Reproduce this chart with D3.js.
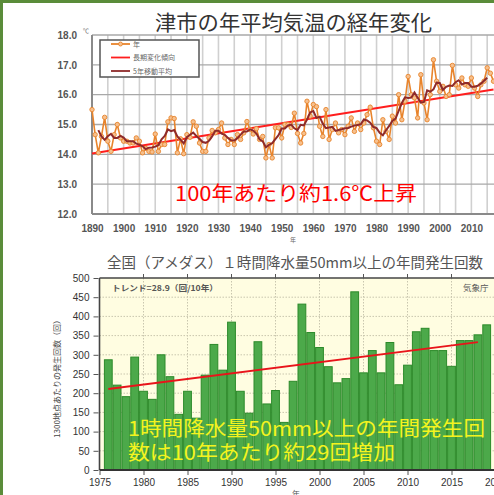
<!DOCTYPE html>
<html>
<head>
<meta charset="utf-8">
<script src="https://cdn.jsdelivr.net/npm/d3@7"></script>
<style>
  html, body { margin: 0; padding: 0; background: #fff; }
  svg { display: block; }
</style>
</head>
<body>
<svg id="chart" width="494" height="495"></svg>
<script>
// 津市の年平均気温 (1890-2017)
const tempYears = d3.range(1890, 2018);
const tempValues = [
  15.50, 14.66, 14.05, 14.60, 15.24, 14.44, 14.10, 14.66, 15.00, 14.55,
  14.44, 14.44, 14.38, 14.38, 14.55, 14.44, 14.05, 14.20, 14.10, 14.08,
  14.68, 14.10, 14.33, 14.33, 15.09, 15.22, 15.20, 14.05, 14.52, 14.02,
  14.66, 14.57, 15.09, 14.94, 14.38, 14.10, 14.10, 14.55, 14.80, 14.72,
  14.83, 15.05, 14.55, 14.33, 14.50, 14.33, 14.66, 14.50, 14.72, 15.10,
  14.83, 14.68, 14.86, 14.50, 14.60, 13.88, 14.33, 13.88, 14.89, 14.89,
  14.55, 15.00, 15.00, 14.90, 15.38, 14.70, 14.38, 14.70, 15.78, 15.28,
  15.67, 15.60, 14.94, 14.60, 15.50, 14.50, 14.83, 15.05, 14.72, 14.83,
  14.66, 14.94, 15.22, 14.77, 15.05, 14.83, 15.05, 15.33, 15.58, 14.89,
  14.44, 14.33, 15.16, 14.77, 14.50, 15.28, 15.05, 16.00, 15.16, 15.78,
  16.61, 16.00, 15.89, 15.22, 16.67, 15.72, 15.16, 16.00, 17.17, 16.45,
  16.11, 16.28, 15.94, 16.00, 16.98, 16.33, 16.22, 16.56, 16.33, 16.28,
  16.56, 16.22, 15.94, 16.33, 16.45, 16.90, 16.72, 16.45
];
// 長期変化傾向 (end points)
const tempTrendYears = [1890, 2017];
const tempTrendValues = [14.03, 16.17];
const tempYTicks = [12, 13, 14, 15, 16, 17, 18];
const tempXTicks = d3.range(1890, 2020, 10);
const tempLegend = ["年", "長期変化傾向", "5年移動平均"];

// 1時間降水量50mm以上の年間発生回数 (1976-2019)
const rainYears = d3.range(1976, 2020);
const rainCounts = [
  287, 221, 191, 294, 205, 184, 300, 243, 145, 205,
  135, 247, 327, 260, 385, 205, 148, 334, 172, 207,
  124, 231, 432, 358, 319, 269, 227, 238, 464, 253,
  311, 253, 332, 222, 273, 360, 369, 311, 311, 270,
  337, 337, 352, 378
];
const rainTrendYears = [1976, 2018];
const rainTrendValues = [211, 333];
const rainYTicks = d3.range(0, 550, 50);
const rainXTicks = d3.range(1975, 2025, 5);

const svg = d3.select("#chart");
const jp = "'Noto Sans CJK JP', 'Noto Sans', sans-serif";
const num = "'Liberation Sans', Arial, sans-serif";

svg.append("rect").attr("width", 494).attr("height", 495).attr("fill", "#fff");

// ---------- top chart ----------
const x1 = d3.scaleLinear().domain([1890, 2020]).range([92, 503]);
const y1 = d3.scaleLinear().domain([12, 18]).range([214, 35]);

svg.append("text")
  .attr("x", 155).attr("y", 30)
  .attr("textLength", 277).attr("lengthAdjust", "spacingAndGlyphs")
  .attr("font-family", jp).attr("font-size", 21).attr("fill", "#333")
  .text("津市の年平均気温の経年変化");

const g1 = svg.append("g");

// vertical grid, every 5 years
g1.selectAll("line.vg")
  .data(d3.range(1895, 2021, 5))
  .join("line")
  .attr("x1", d => x1(d)).attr("x2", d => x1(d))
  .attr("y1", y1(18)).attr("y2", y1(12))
  .attr("stroke", "#d0d0d0").attr("stroke-width", 1.6);

// horizontal grid
g1.selectAll("line.hg")
  .data(tempYTicks.slice(1))
  .join("line")
  .attr("x1", x1(1890)).attr("x2", 494)
  .attr("y1", d => y1(d)).attr("y2", d => y1(d))
  .attr("stroke", "#a8a8a8").attr("stroke-width", 1.4);

// axis lines
g1.append("line").attr("x1", x1(1890)).attr("x2", x1(1890))
  .attr("y1", y1(18)).attr("y2", y1(12)).attr("stroke", "#8a8a8a").attr("stroke-width", 2);
g1.append("line").attr("x1", x1(1890)).attr("x2", 494)
  .attr("y1", y1(12)).attr("y2", y1(12)).attr("stroke", "#8a8a8a").attr("stroke-width", 2);

// tick labels
const yAx1 = g1.append("g")
  .attr("transform", `translate(${x1(1890) - 12},0)`)
  .call(d3.axisLeft(y1).tickValues(tempYTicks).tickSize(0).tickFormat(d3.format(".1f")));
yAx1.select(".domain").remove();
yAx1.selectAll("text").attr("font-family", num).attr("font-weight", "bold")
  .attr("font-size", 10).attr("fill", "#555");

const xAx1 = g1.append("g")
  .attr("transform", `translate(0,${y1(12) + 8})`)
  .call(d3.axisBottom(x1).tickValues(tempXTicks).tickSize(0).tickFormat(d3.format("d")));
xAx1.select(".domain").remove();
xAx1.selectAll("text").attr("font-family", num).attr("font-weight", "bold")
  .attr("font-size", 10).attr("fill", "#555");

svg.append("text").attr("x", 86).attr("y", 33).attr("text-anchor", "middle")
  .attr("font-family", jp).attr("font-size", 6).attr("fill", "#666").text("℃");
svg.append("text").attr("x", 293).attr("y", 242).attr("text-anchor", "middle")
  .attr("font-family", jp).attr("font-size", 6).attr("fill", "#666").text("年");

// trend
const line1 = d3.line().x(d => x1(d[0])).y(d => y1(d[1]));
g1.append("path")
  .datum(d3.zip(tempTrendYears, tempTrendValues))
  .attr("fill", "none").attr("stroke", "#ff1e1e").attr("stroke-width", 2)
  .attr("d", line1);

// annual series
const annual = d3.zip(tempYears, tempValues);
g1.append("path")
  .datum(annual)
  .attr("fill", "none").attr("stroke", "#e8842c").attr("stroke-width", 1.6)
  .attr("d", line1);
g1.selectAll("circle.pt")
  .data(annual)
  .join("circle")
  .attr("cx", d => x1(d[0])).attr("cy", d => y1(d[1])).attr("r", 2.2)
  .attr("fill", "#f6c08e").attr("stroke", "#e8842c").attr("stroke-width", 0.9);

// 5-year moving average (centered)
const movAvg = annual.slice(2, -2).map((d, i) =>
  [d[0], d3.mean(tempValues.slice(i, i + 5))]);
g1.append("path")
  .datum(movAvg)
  .attr("fill", "none").attr("stroke", "#8e2a2a").attr("stroke-width", 2)
  .attr("d", line1);

// legend
const lg = svg.append("g");
lg.append("rect").attr("x", 100).attr("y", 40).attr("width", 99).attr("height", 37)
  .attr("fill", "#fff").attr("stroke", "#555").attr("stroke-width", 1.5);
const legendColors = ["#e8842c", "#ff1e1e", "#8e2a2a"];
tempLegend.forEach((name, i) => {
  const yy = 44 + i * 13.5;
  lg.append("line").attr("x1", 111).attr("x2", 130).attr("y1", yy).attr("y2", yy)
    .attr("stroke", legendColors[i]).attr("stroke-width", 1.8);
  if (i === 0) {
    lg.append("circle").attr("cx", 120.5).attr("cy", yy).attr("r", 2)
      .attr("fill", "#f6c08e").attr("stroke", "#e8842c").attr("stroke-width", 0.9);
  }
  lg.append("text").attr("x", 133).attr("y", yy + 2.5)
    .attr("font-family", jp).attr("font-size", 7).attr("fill", "#666").text(name);
});

svg.append("text")
  .attr("x", 175).attr("y", 201)
  .attr("textLength", 242).attr("lengthAdjust", "spacingAndGlyphs")
  .attr("font-family", jp).attr("font-size", 20).attr("fill", "#ff0000")
  .text("100年あたり約1.6℃上昇");

// ---------- bottom chart ----------
const x2 = d3.scaleLinear().domain([1975, 2020]).range([99.5, 495.5]);
const y2 = d3.scaleLinear().domain([0, 500]).range([470, 278]);

svg.append("text")
  .attr("x", 107).attr("y", 268)
  .attr("textLength", 376).attr("lengthAdjust", "spacingAndGlyphs")
  .attr("font-family", jp).attr("font-size", 14.5).attr("fill", "#555")
  .text("全国（アメダス）１時間降水量50mm以上の年間発生回数");

const g2 = svg.append("g");
g2.append("rect").attr("x", x2(1975)).attr("y", y2(500))
  .attr("width", 500 - x2(1975)).attr("height", y2(0) - y2(500))
  .attr("fill", "#fffde1");

g2.selectAll("line.hg")
  .data(rainYTicks.slice(1, -1))
  .join("line")
  .attr("x1", x2(1975)).attr("x2", 494)
  .attr("y1", d => y2(d)).attr("y2", d => y2(d))
  .attr("stroke", "#c9c6ae").attr("stroke-width", 1).attr("stroke-dasharray", "1.5,1.5");
g2.selectAll("line.vg")
  .data(rainXTicks.slice(1))
  .join("line")
  .attr("x1", d => x2(d)).attr("x2", d => x2(d))
  .attr("y1", y2(500)).attr("y2", y2(0))
  .attr("stroke", "#c9c6ae").attr("stroke-width", 1).attr("stroke-dasharray", "1.5,1.5");

g2.selectAll("rect.bar")
  .data(d3.zip(rainYears, rainCounts))
  .join("rect")
  .attr("x", d => x2(d[0]) - 3.9).attr("width", 7.8)
  .attr("y", d => y2(d[1])).attr("height", d => y2(0) - y2(d[1]))
  .attr("fill", "#4ca94a").attr("stroke", "#2c8a2a").attr("stroke-width", 1);

g2.append("path")
  .datum(d3.zip(rainTrendYears, rainTrendValues))
  .attr("fill", "none").attr("stroke", "#e8141a").attr("stroke-width", 2)
  .attr("d", d3.line().x(d => x2(d[0])).y(d => y2(d[1])));

// frame lines
g2.append("line").attr("x1", x2(1975)).attr("x2", x2(1975))
  .attr("y1", y2(500)).attr("y2", y2(0)).attr("stroke", "#444").attr("stroke-width", 1.6);
g2.append("line").attr("x1", x2(1975)).attr("x2", 494)
  .attr("y1", y2(500)).attr("y2", y2(500)).attr("stroke", "#444").attr("stroke-width", 1.4);
g2.append("line").attr("x1", x2(1975)).attr("x2", 494)
  .attr("y1", y2(0)).attr("y2", y2(0)).attr("stroke", "#333").attr("stroke-width", 1.8);

const yAx2 = g2.append("g")
  .attr("transform", `translate(${x2(1975) - 1},0)`)
  .call(d3.axisLeft(y2).tickValues(rainYTicks).tickSize(5).tickPadding(4));
yAx2.select(".domain").remove();
yAx2.selectAll("line").attr("stroke", "#555");
yAx2.selectAll("text").attr("font-family", num).attr("font-size", 10).attr("fill", "#333");

const xAx2 = g2.append("g")
  .attr("transform", `translate(0,${y2(0) + 1})`)
  .call(d3.axisBottom(x2).tickValues(rainXTicks).tickSize(4).tickPadding(4).tickFormat(d3.format("d")));
xAx2.select(".domain").remove();
xAx2.selectAll("line").attr("stroke", "#555");
xAx2.selectAll("text").attr("font-family", num).attr("font-size", 10).attr("fill", "#333");

g2.selectAll("line.tt")
  .data(rainXTicks.slice(1))
  .join("line")
  .attr("x1", d => x2(d)).attr("x2", d => x2(d))
  .attr("y1", y2(500) - 4).attr("y2", y2(500))
  .attr("stroke", "#555");

svg.append("text")
  .attr("transform", "translate(60,377) rotate(-90)")
  .attr("text-anchor", "middle")
  .attr("font-family", jp).attr("font-size", 8).attr("fill", "#444")
  .text("1300地点あたりの発生回数（回）");

svg.append("text").attr("x", 112).attr("y", 291)
  .attr("textLength", 106).attr("lengthAdjust", "spacingAndGlyphs")
  .attr("font-family", jp).attr("font-weight", "bold").attr("font-size", 8).attr("fill", "#555")
  .text("トレンド=28.9（回/10年）");
svg.append("text").attr("x", 463).attr("y", 291)
  .attr("font-family", jp).attr("font-size", 8.5).attr("fill", "#555")
  .text("気象庁");
svg.append("text").attr("x", 296).attr("y", 497).attr("text-anchor", "middle")
  .attr("font-family", jp).attr("font-size", 8).attr("fill", "#555").text("年");

svg.append("text")
  .attr("x", 128).attr("y", 436)
  .attr("textLength", 357).attr("lengthAdjust", "spacingAndGlyphs")
  .attr("font-family", jp).attr("font-size", 20).attr("fill", "#f4f41e")
  .text("1時間降水量50mm以上の年間発生回");
svg.append("text")
  .attr("x", 128).attr("y", 460)
  .attr("textLength", 267).attr("lengthAdjust", "spacingAndGlyphs")
  .attr("font-family", jp).attr("font-size", 20).attr("fill", "#f4f41e")
  .text("数は10年あたり約29回増加");

// outer green frame (left and top edges visible)
svg.append("path")
  .attr("d", "M1.5,498 L1.5,1.5 L498,1.5")
  .attr("fill", "none").attr("stroke", "#5a8c3a").attr("stroke-width", 3);
</script>
</body>
</html>
